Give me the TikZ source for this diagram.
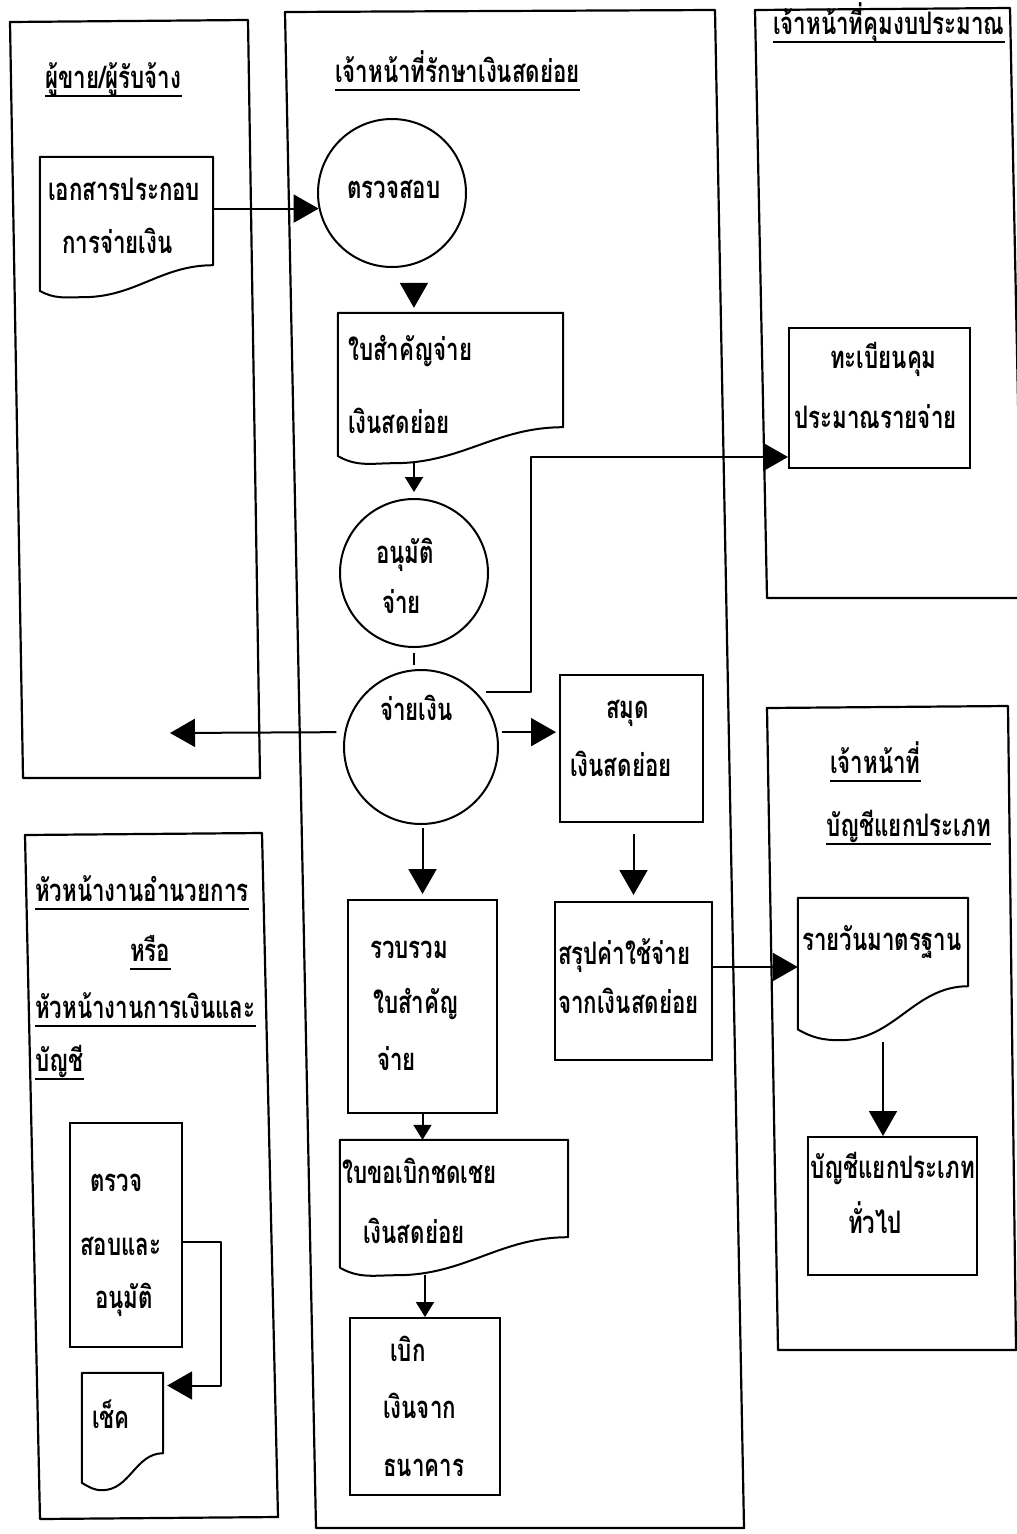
\documentclass[tikz,border=0pt]{standalone}
\usepackage{fontspec}
\newfontfamily\thaifont[Script=Thai,FakeStretch=0.72]{Loma}
\usetikzlibrary{arrows.meta,calc}

\tikzset{
  ln/.style={line width=2pt, line join=round},
  lane/.style={line width=2.2pt, line join=round},
  fig/.style={draw, line width=2pt, inner sep=0pt},
  boxn/.style={fig, rectangle},
  circn/.style={fig, circle},
  docn/.style={rectangle, inner sep=0pt},
  txt/.style={font=\thaifont\bfseries\fontsize{31}{31}\selectfont, inner sep=0pt, anchor=base west},
  uline/.style={line width=2.6pt},
  arrbig/.style={ln, -{Triangle[length=25pt,width=28pt]}},
  arrsmall/.style={ln, -{Triangle[length=15pt,width=18pt]}},
}

% document symbol: flat top, wavy bottom that rises towards the right
\newcommand\docpath[2]{%
  \draw[ln] ([yshift=0.2*#2]#1.south west) -- (#1.north west) -- (#1.north east)
    -- ([yshift=#2]#1.south east)
    to[out=180,in=0] ($(#1.south west)!0.25!(#1.south east)$)
    to[out=180,in=-30] ([yshift=0.2*#2]#1.south west) -- cycle;}
% underline below a title
\newcommand\ulin[1]{\draw[uline] ([yshift=-8pt]#1.base west) -- ([yshift=-8pt]#1.base east);}

\begin{document}
\begin{tikzpicture}[x=1pt,y=-1pt]
\fill[white] (0,0) rectangle (1017,1534);
\useasboundingbox (0,0) rectangle (1017,1534);

% swimlanes
\draw[lane] (10,22) -- (248,20) -- (260,778) -- (23,778) -- cycle;
\draw[lane] (285,12) -- (715,10) -- (744,1528) -- (316,1528) -- cycle;
\draw[lane] (755,10) -- (1010,8) -- (1022,598) -- (767,598) -- cycle;
\draw[lane] (767,708) -- (1008,706) -- (1016,1350) -- (778,1350) -- cycle;
\draw[lane] (25,835) -- (262,833) -- (278,1517) -- (40,1519) -- cycle;

% lane titles
\node[txt] (h1) at (45,88) {ผู้ขาย/ผู้รับจ้าง}; \ulin{h1}
\node[txt] (h2) at (335,82) {เจ้าหน้าที่รักษาเงินสดย่อย}; \ulin{h2}
\node[txt] (h3) at (773,34) {เจ้าหน้าที่คุมงบประมาณ}; \ulin{h3}
\node[txt] (h4a) at (830,773) {เจ้าหน้าที่}; \ulin{h4a}
\node[txt] (h4b) at (826,836) {บัญชีแยกประเภท}; \ulin{h4b}
\node[txt] (h5a) at (35,901) {หัวหน้างานอำนวยการ}; \ulin{h5a}
\node[txt] (h5b) at (130,961) {หรือ}; \ulin{h5b}
\node[txt] (h5c) at (35,1018) {หัวหน้างานการเงินและ}; \ulin{h5c}
\node[txt] (h5d) at (35,1071) {บัญชี}; \ulin{h5d}

% shapes
\node[docn, minimum width=173, minimum height=140] (d1) at (126.5,227) {};
\docpath{d1}{32pt}
\node[circn, minimum size=148] (c1) at (392,193) {};
\node[docn, minimum width=225, minimum height=150] (d2) at (450.5,388) {};
\docpath{d2}{36pt}
\node[circn, minimum size=148] (c2) at (414,573) {};
\node[circn, minimum size=154] (c3) at (421,747) {};
\node[boxn, minimum width=143, minimum height=147] (samut) at (631.5,748.5) {};
\node[boxn, minimum width=149, minimum height=213] (rvb) at (422.5,1006.5) {};
\node[boxn, minimum width=157, minimum height=158] (srp) at (633.5,981) {};
\node[docn, minimum width=228, minimum height=135] (ubk) at (454,1207.5) {};
\docpath{ubk}{38pt}
\node[boxn, minimum width=150, minimum height=177] (bk) at (425,1406.5) {};
\node[boxn, minimum width=181, minimum height=140] (reg) at (879.5,398) {};
\node[docn, minimum width=170, minimum height=142] (rw) at (883,969) {};
\docpath{rw}{54pt}
\node[boxn, minimum width=169, minimum height=138] (bl) at (892.5,1206) {};
\node[boxn, minimum width=112, minimum height=224] (ta) at (126,1235) {};
\node[docn, minimum width=81, minimum height=117] (chk) at (122.5,1431.5) {};
\docpath{chk}{37pt}

% texts inside the shapes
\node[txt] (x1a) at (48,200) {เอกสารประกอบ};
\node[txt] (x1b) at (62,253) {การจ่ายเงิน};
\node[txt] (x2) at (347,198) {ตรวจสอบ};
\node[txt] (x3a) at (348,360) {ใบสำคัญจ่าย};
\node[txt] (x3b) at (348,433) {เงินสดย่อย};
\node[txt] (x4a) at (376,563) {อนุมัติ};
\node[txt] (x4b) at (382,613) {จ่าย};
\node[txt] (x5) at (380,720) {จ่ายเงิน};
\node[txt] (x6a) at (606,718) {สมุด};
\node[txt] (x6b) at (570,776) {เงินสดย่อย};
\node[txt] (x7a) at (370,958) {รวบรวม};
\node[txt] (x7b) at (373,1013) {ใบสำคัญ};
\node[txt] (x7c) at (377,1070) {จ่าย};
\node[txt] (x8a) at (558,964) {สรุปค่าใช้จ่าย};
\node[txt] (x8b) at (558,1013) {จากเงินสดย่อย};
\node[txt] (x9a) at (342,1183) {ใบขอเบิกชดเชย};
\node[txt] (x9b) at (363,1243) {เงินสดย่อย};
\node[txt] (x10a) at (390,1361) {เบิก};
\node[txt] (x10b) at (383,1418) {เงินจาก};
\node[txt] (x10c) at (383,1476) {ธนาคาร};
\node[txt] (x11a) at (830,368) {ทะเบียนคุม};
\node[txt] (x11b) at (794,428) {ประมาณรายจ่าย};
\node[txt] (x12) at (802,950) {รายวันมาตรฐาน};
\node[txt] (x13a) at (810,1178) {บัญชีแยกประเภท};
\node[txt] (x13b) at (848,1233) {ทั่วไป};
\node[txt] (x14a) at (90,1191) {ตรวจ};
\node[txt] (x14b) at (80,1255) {สอบและ};
\node[txt] (x14c) at (95,1308) {อนุมัติ};
\node[txt] (x15) at (92,1428) {เช็ค};

% connectors
\draw[arrbig] (c1.192 -| d1.east) -- (c1.192);
\draw[arrbig, shorten <=18pt, shorten >=5pt] (c1.-73.5) -- (c1.-73.5 |- d2.north);
\draw[arrsmall, shorten >=6pt] (c2.north |- d2.south) -- (c2.north);
\draw[ln, shorten <=5pt, shorten >=4pt] (c2.south) -- (c2.south |- c3.north);
\coordinate (bend) at (531,457);
\draw[arrbig, shorten <=10pt] (c3.45.6) -| (bend) -- (bend -| reg.west);
\coordinate (vend) at (170,733);
\draw[arrbig, shorten <=8pt] (c3.169.5) -- (vend);
\draw[arrbig, shorten <=4pt, shorten >=3pt] (c3.11) -- (c3.11 -| samut.west);
\draw[arrbig, shorten <=3pt, shorten >=5pt] (c3.south -| rvb.north) -- (rvb.north);
\draw[arrbig, shorten <=11pt, shorten >=6pt] (samut.south -| srp.north) -- (srp.north);
\coordinate (sout) at ([yshift=14pt]srp.east);
\draw[arrbig] (sout) -- (sout -| rw.west);
\draw[arrsmall] (rvb.south) -- (rvb.south |- ubk.north);
\draw[arrsmall] (bk.north |- ubk.south) -- (bk.north);
\draw[arrbig, shorten <=2pt] (rw.south) -- (rw.south |- bl.north);
\coordinate (tout) at ([yshift=-7pt]ta.east);
\coordinate (cin) at ([yshift=46pt]chk.east);
\draw[arrbig, shorten >=4pt] (tout) -- ++(38,0) |- (cin);
\end{tikzpicture}
\end{document}
